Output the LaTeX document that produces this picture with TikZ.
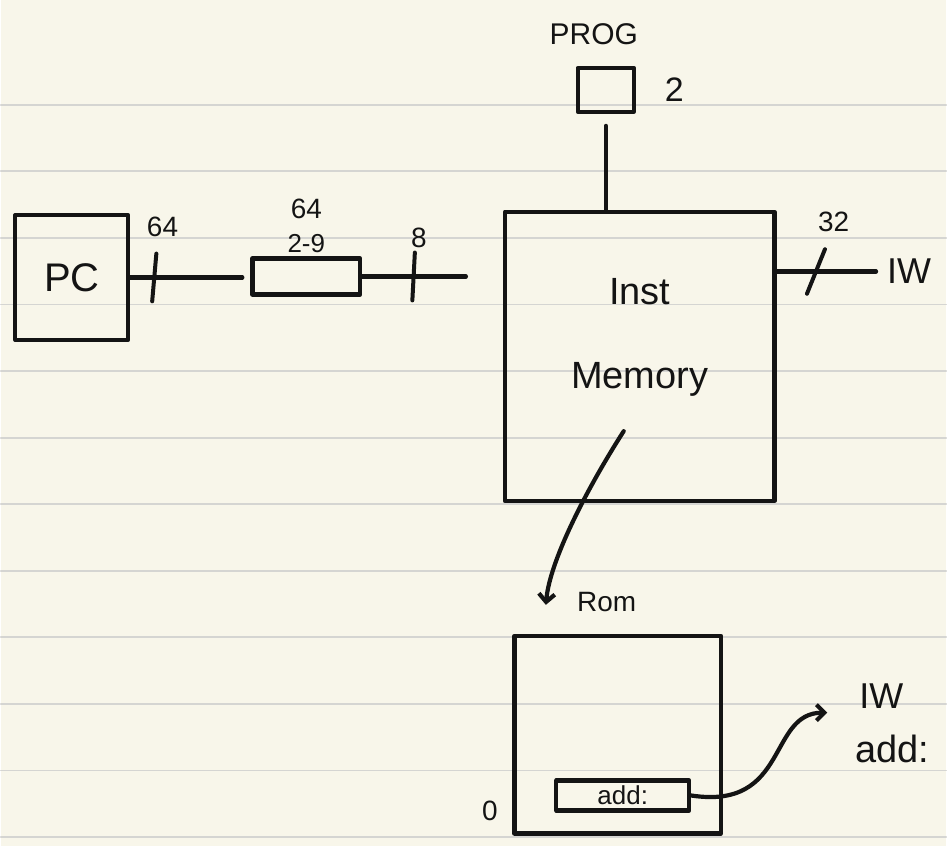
\documentclass[tikz,border=0pt]{standalone}
\usepackage{fontspec}
\setmainfont{Liberation Sans}
\usetikzlibrary{arrows.meta,calc,positioning}
\definecolor{noteCream}{HTML}{F8F6EA}
\definecolor{noteRule}{HTML}{D5D5D2}
\definecolor{noteInk}{HTML}{141414}

\begin{document}
\begin{tikzpicture}[x=1pt,y=-1pt,>={Straight Barb[length=8pt,width=16pt]},line cap=round,line join=round]
\path[fill=noteCream] (0,0) rectangle (947,848);
\foreach \k in {0,...,11} \draw[noteRule,line width=1.8pt] (0,105+66.7*\k) -- (947,105+66.7*\k);
\tikzset{wire/.style={draw=noteInk,line width=4.2pt},box/.style={draw=noteInk,line width=4.2pt,inner sep=0pt},tick/.style={draw=noteInk,line width=4pt,inner sep=0pt,minimum width=0pt,minimum height=48pt},hand/.style={text=noteInk,inner sep=1pt,font=\fontsize{28}{30}\selectfont}}
% blocks
\node[box,hand,font=\fontsize{40}{40}\selectfont,minimum width=113pt,minimum height=125pt] (pc) at (71,278) {PC};
\node[box,minimum width=108pt,minimum height=36pt] (slice) at (306,277) {};
\node[hand,font=\fontsize{26}{26}\selectfont,above=2pt of slice] (sliceRange) {2-9};
\node[hand,above=14pt of sliceRange] (sliceWidth) {64};
\node[box,minimum width=270pt,minimum height=290pt] (mem) at (640,357) {};
\node[hand,font=\fontsize{38}{84}\selectfont,align=center] (memText) at (640,338) {Inst\\Memory};
\node[box,minimum width=56pt,minimum height=44pt] (prog) at (606,90) {};
\node[hand,font=\fontsize{30}{30}\selectfont,above=20pt of prog,xshift=-12pt] (progLabel) {PROG};
\node[hand,font=\fontsize{34}{34}\selectfont,right=28pt of prog] (progCount) {2};
\node[hand,font=\fontsize{36}{36}\selectfont] (iwOut) at (910,272) {IW};
\node[box,minimum width=207pt,minimum height=198pt] (rom) at (618,736) {};
\node[hand] (romLabel) at (607,603) {Rom};
\node[hand] (romBase) at (490,812) {0};
\node[box,hand,font=\fontsize{26}{26}\selectfont,minimum width=133pt,minimum height=30pt] (romWord) at (623,797) {add:};
\node[hand,font=\fontsize{36}{36}\selectfont] (iwWord) at (882,697) {IW};
\node[hand,font=\fontsize{38}{38}\selectfont] (addWord) at (893,750) {add:};
% buses
\draw[wire,shorten >=8pt] (pc.east) -- node[tick,pos=0.2,rotate=-5] (tickA) {} (pc.east -| slice.west);
\node[hand,above=14pt of tickA,xshift=6pt] (tickAWidth) {64};
\draw[wire,shorten >=37pt] (slice.east) -- node[tick,pos=0.365,rotate=-3] (tickB) {} (slice.east -| mem.west);
\node[hand,above=2pt of tickB,xshift=4pt] (tickBWidth) {8};
\draw[wire,shorten <=12pt] (prog.south) -- (prog.south |- mem.north);
\draw[wire,shorten >=10pt] (mem.east |- iwOut.west) -- node[tick,pos=0.36,rotate=-22] (tickC) {} (iwOut.west);
\node[hand,above=14pt of tickC,xshift=8pt] (tickCWidth) {32};
\coordinate (memBus) at (624,432);
\coordinate (romIn) at (546,606);
\draw[wire,->] (memBus) .. controls (590,485) and (550,560) .. (romIn);
\coordinate (wordOut) at (828,714);
\draw[wire,->] (romWord.east) .. controls (790,812) and (768,714) .. (wordOut);
\end{tikzpicture}
\end{document}
